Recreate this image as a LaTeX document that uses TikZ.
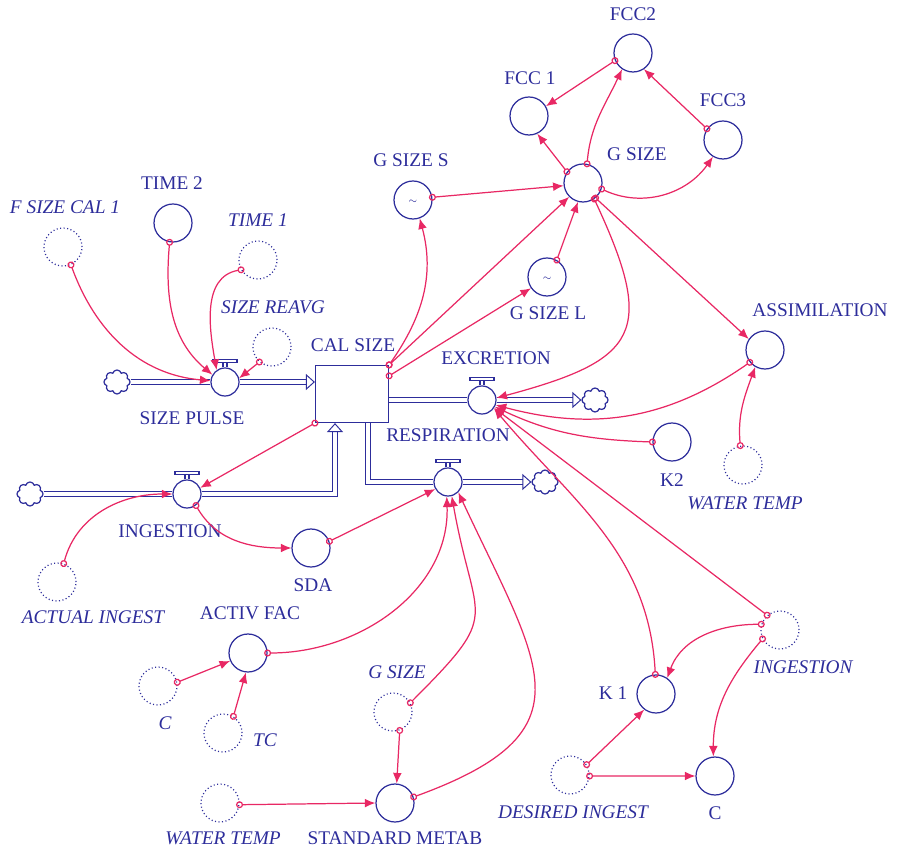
\documentclass[tikz,border=0pt]{standalone}
\usepackage{fontspec}
\setmainfont{Liberation Serif}
\usepackage{xcolor}
\usepackage{tikz}
\usetikzlibrary{arrows.meta}
\usetikzlibrary{shapes.symbols}

\definecolor{stellablue}{RGB}{45,45,155}
\definecolor{linkred}{RGB}{232,40,100}

\begin{document}
\begin{tikzpicture}[x=0.02cm,y=0.02cm,
  every node/.style={font=\fontsize{11}{13}\selectfont,text=stellablue},
  conv/.style={circle,draw=stellablue,line width=0.7pt,minimum size=0.76cm,inner sep=0pt},
  ghost/.style={conv,dash pattern=on 0.6pt off 1.4pt},
  valve/.style={circle,draw=stellablue,line width=0.7pt,minimum size=0.56cm,inner sep=0pt},
  stock/.style={rectangle,draw=stellablue,line width=0.7pt,minimum width=1.46cm,minimum height=1.14cm},
  sink/.style={cloud,cloud puffs=8,aspect=1.1,draw=stellablue,line width=0.7pt,minimum width=0.52cm,minimum height=0.48cm,inner sep=0pt},
  pipe/.style={draw=stellablue,line width=0.55pt,double=white,double distance=2.4pt},
  inflow/.style={pipe,-{Triangle[open,length=0.18cm,width=0.32cm]}},
  link/.style={draw=linkred,line width=0.7pt,{Circle[open,length=4pt,width=4pt]}-{Latex[length=6pt,width=5pt]},shorten <=-2pt},
  lbl/.style={inner sep=0pt},
  glbl/.style={inner sep=0pt,font=\fontsize{11}{13}\selectfont\itshape}]

  \useasboundingbox (0,0) rectangle (898,-854);

  % stock, valves and clouds
  \node[stock] (cal) at (352,-394) {};
  \node[valve] (pulse) at (225,-382) {};
  \node[sink] (src1) at (117,-382) {};
  \node[valve] (ingest) at (187,-494) {};
  \node[sink] (src2) at (30,-494) {};
  \node[valve] (excr) at (482,-400) {};
  \node[sink] (snk1) at (595,-400) {};
  \node[valve] (resp) at (448,-482) {};
  \node[sink] (snk2) at (545,-482) {};

  \draw[pipe] (src1) -- (pulse);
  \draw[inflow] (pulse) -- (pulse -| cal.west);
  \draw[pipe] (src2) -- (ingest);
  \draw[inflow] (ingest) -| ([xshift=-0.34cm]cal.south);
  \draw[pipe] (excr -| cal.east) -- (excr);
  \draw[inflow] (excr) -- (snk1);
  \draw[pipe] ([xshift=0.32cm]cal.south) |- (resp);
  \draw[inflow] (resp) -- (snk2);

  \foreach \v in {pulse,ingest,excr,resp}{
    \draw[stellablue,line width=0.6pt] (\v.north) ++(-2,0) -- ++(0,5) (\v.north) ++(2,0) -- ++(0,5);
    \draw[stellablue,line width=0.6pt,fill=white] (\v.north) ++(-12,5) rectangle ++(24,3);
  }

  % converters
  \node[conv] (fcc2) at (633,-53) {};
  \node[conv] (fcc1) at (529,-116) {};
  \node[conv] (fcc3) at (723,-140) {};
  \node[conv] (gsize) at (583,-183) {};
  \node[conv] (gsizes) at (413,-200) {\raisebox{-4pt}{\tiny$\sim$}};
  \node[conv] (gsizel) at (547,-277) {\raisebox{-4pt}{\tiny$\sim$}};
  \node[conv] (assim) at (765,-350) {};
  \node[conv] (k2) at (672,-442) {};
  \node[conv] (time2) at (173,-223) {};
  \node[conv] (sda) at (311,-548) {};
  \node[conv] (activ) at (248,-653) {};
  \node[conv] (stdmet) at (395,-803) {};
  \node[conv] (k1) at (656,-694) {};
  \node[conv] (ccirc) at (715,-776) {};

  % ghosts
  \node[ghost] (fsize) at (63,-247) {};
  \node[ghost] (time1) at (258,-260) {};
  \node[ghost] (reavg) at (272,-347) {};
  \node[ghost] (wtempa) at (743,-465) {};
  \node[ghost] (actual) at (57,-582) {};
  \node[ghost] (cfac) at (158,-686) {};
  \node[ghost] (tc) at (223,-733) {};
  \node[ghost] (gsizeg) at (393,-712) {};
  \node[ghost] (wtempb) at (220,-803) {};
  \node[ghost] (ingestg) at (780,-630) {};
  \node[ghost] (desired) at (570,-775) {};

  % labels
  \node[lbl] (cal-l) at (353,-345) {CAL SIZE};
  \node[lbl] (pulse-l) at (192,-418) {SIZE PULSE};
  \node[lbl] (ingest-l) at (170,-531) {INGESTION};
  \node[lbl] (excr-l) at (496,-358) {EXCRETION};
  \node[lbl] (resp-l) at (448,-435) {RESPIRATION};
  \node[lbl] (fcc2-l) at (633,-14) {FCC2};
  \node[lbl] (fcc1-l) at (530,-78) {FCC 1};
  \node[lbl] (fcc3-l) at (723,-100) {FCC3};
  \node[lbl] (gsize-l) at (637,-154) {G SIZE};
  \node[lbl] (gsizes-l) at (411,-160) {G SIZE S};
  \node[lbl] (gsizel-l) at (548,-313) {G SIZE L};
  \node[lbl] (assim-l) at (820,-310) {ASSIMILATION};
  \node[lbl] (k2-l) at (672,-480) {K2};
  \node[lbl] (time2-l) at (172,-183) {TIME 2};
  \node[lbl] (sda-l) at (313,-585) {SDA};
  \node[lbl] (activ-l) at (250,-613) {ACTIV FAC};
  \node[lbl] (stdmet-l) at (395,-838) {STANDARD METAB};
  \node[lbl] (k1-l) at (613,-693) {K 1};
  \node[lbl] (ccirc-l) at (715,-813) {C};
  \node[glbl] (fsize-l) at (65,-207) {F SIZE CAL 1};
  \node[glbl] (time1-l) at (258,-220) {TIME 1};
  \node[glbl] (reavg-l) at (273,-307) {SIZE REAVG};
  \node[glbl] (wtempa-l) at (745,-503) {WATER TEMP};
  \node[glbl] (actual-l) at (93,-617) {ACTUAL INGEST};
  \node[glbl] (cfac-l) at (165,-723) {C};
  \node[glbl] (tc-l) at (265,-740) {TC};
  \node[glbl] (gsizeg-l) at (397,-672) {G SIZE};
  \node[glbl] (wtempb-l) at (223,-838) {WATER TEMP};
  \node[glbl] (ingestg-l) at (803,-667) {INGESTION};
  \node[glbl] (desired-l) at (573,-812) {DESIRED INGEST};

  % connectors
  \draw[link] (fsize.-66) to[out=-70,in=175] (pulse.175);
  \draw[link] (time2.-100) to[out=-95,in=140] (pulse.150);
  \draw[link] (time1.210) to[out=190,in=100] (pulse.125);
  \draw[link] (reavg.230) -- (pulse.15);

  \draw[link] (cal.north east) to[out=55,in=-75] (gsizes.-70);
  \draw[link] (cal.north east) -- (gsize.225);
  \draw[link] ([yshift=-0.22cm]cal.north east) -- (gsizel.215);
  \draw[link] (gsizes.8) -- (gsize.188);
  \draw[link] (gsizel.60) -- (gsize.-105);
  \draw[link] (gsize.145) -- (fcc1.-65);
  \draw[link] (gsize.78) to[out=85,in=-115] (fcc2.236);
  \draw[link] (fcc2.203) -- (fcc1.30);
  \draw[link] (fcc3.145) -- (fcc2.-56);
  \draw[link] (gsize.-18) to[out=-25,in=-125] (fcc3.-121);
  \draw[link] (gsize.-50) -- (assim.146);
  \draw[link] (gsize.-55) to[out=-65,in=15,looseness=1.7] (excr.8);

  \draw[link] (assim.219) to[out=-145,in=-15] (excr.-20);
  \draw[link] (k2.180) to[out=178,in=-25] (excr.-28);
  \draw[link] (wtempa.98) to[out=95,in=-110] (assim.-120);
  \draw[link] (k1.92) to[out=93,in=-50] (excr.-35);
  \draw[link] (ingestg.131) -- (excr.-33);
  \draw[link] (ingestg.163) to[out=180,in=70] (k1.55);
  \draw[link] (ingestg.207) to[out=-130,in=90] (ccirc.95);
  \draw[link] (desired.32) -- (k1.-127);
  \draw[link] (desired.-3) -- (ccirc.west);

  \draw[link] (cal.south west) -- (ingest.25);
  \draw[link] (actual.70) to[out=75,in=180] (ingest.west);
  \draw[link] (ingest.-52) to[out=-60,in=180] (sda.west);
  \draw[link] (sda.20) -- (resp.209);
  \draw[link] (activ.east) to[out=0,in=-88] (resp.-95);
  \draw[link] (gsizeg.28) to[out=45,in=-80,looseness=1.6] (resp.-75);
  \draw[link] (stdmet.18) to[out=20,in=-65,looseness=1.6] (resp.-45);
  \draw[link] (gsizeg.-70) -- (stdmet.85);
  \draw[link] (wtempb.-5) -- (stdmet.west);
  \draw[link] (cfac.11) -- (activ.204);
  \draw[link] (tc.58) -- (activ.-96);

\end{tikzpicture}
\end{document}
